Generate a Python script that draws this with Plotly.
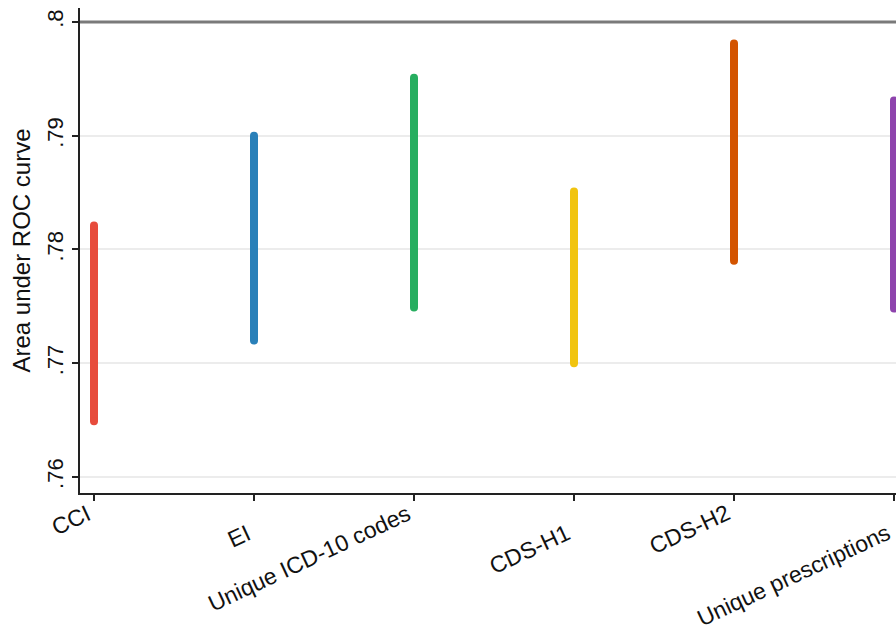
import plotly.graph_objects as go

# ---- data ----
categories = ["CCI", "EI", "Unique ICD-10 codes", "CDS-H1", "CDS-H2", "Unique prescriptions"]
auc_lower = [0.7649, 0.7720, 0.7749, 0.7700, 0.7790, 0.7748]
auc_upper = [0.7821, 0.7900, 0.7951, 0.7851, 0.7981, 0.7931]
colors = ["#e74c3c", "#2980b9", "#27ae60", "#f1c40f", "#d35400", "#8e44ad"]
y_tick_vals = [0.76, 0.77, 0.78, 0.79, 0.80]
y_tick_text = [".76", ".77", ".78", ".79", ".8"]
ref_line = 0.80

FONT = "Liberation Sans, Arial, sans-serif"

fig = go.Figure()
for cat, lo, hi, col in zip(categories, auc_lower, auc_upper, colors):
    fig.add_trace(go.Scatter(
        x=[cat, cat], y=[lo, hi], mode="lines+markers",
        line=dict(color=col, width=8),
        marker=dict(color=col, size=8, symbol="circle"),
        showlegend=False, hoverinfo="skip", cliponaxis=False,
    ))

fig.add_hline(y=ref_line, line=dict(color="#7a7a7a", width=3), layer="above")

# rotated, alternating category labels
for i, cat in enumerate(categories):
    fig.add_annotation(
        x=cat, xref="x", y=0, yref="paper",
        text=cat, showarrow=False, textangle=-25,
        xanchor="right", yanchor="top", borderpad=0,
        yshift=-5 if i % 2 == 0 else -25, xshift=2,
        font=dict(family=FONT, size=23, color="#111111"),
    )

fig.update_layout(
    width=896, height=630,
    margin=dict(l=80, r=0, t=8, b=137),
    paper_bgcolor="white", plot_bgcolor="white",
    font=dict(family=FONT, color="#111111"),
    xaxis=dict(
        type="category", categoryorder="array", categoryarray=categories,
        range=[-0.0875, 5.0125],
        showticklabels=False,
        ticks="outside", ticklen=6, tickwidth=2, tickcolor="#222222",
        showline=True, linewidth=2, linecolor="#222222",
        showgrid=False, zeroline=False,
    ),
    yaxis=dict(
        range=[0.75859, 0.80123],
        tickvals=y_tick_vals, ticktext=y_tick_text,
        tickangle=-90,
        ticks="outside", ticklen=6, tickwidth=2, tickcolor="#222222",
        tickfont=dict(family=FONT, size=22, color="#111111"),
        showline=True, linewidth=2, linecolor="#222222",
        showgrid=True, gridcolor="#ececec", gridwidth=1.5,
        zeroline=False,
        title=dict(text="Area under ROC curve", standoff=6,
                   font=dict(family=FONT, size=24, color="#111111")),
    ),
)

fig.write_html(
    "out.html",
    config={"displayModeBar": False},
    post_script="document.body.style.margin='0';document.body.style.overflow='hidden';",
)
